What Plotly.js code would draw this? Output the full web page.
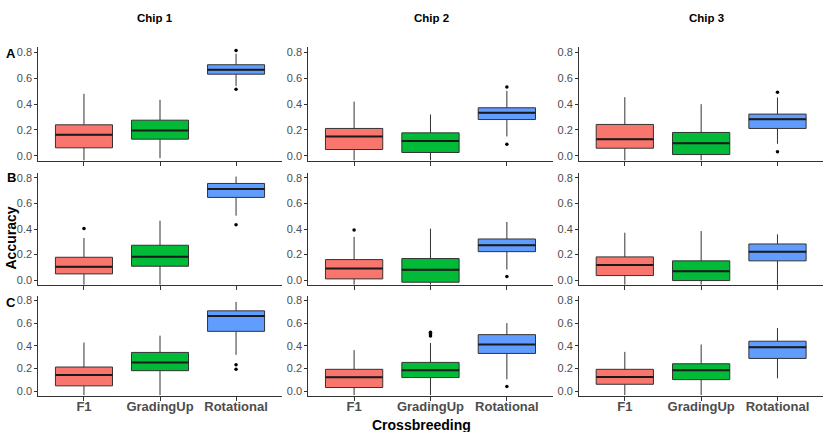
<!DOCTYPE html>
<html><head><meta charset="utf-8">
<script src="https://cdn.plot.ly/plotly-3.0.1.min.js"></script>
<style>html,body{margin:0;padding:0;background:#fff}</style>
</head><body><div id="chart" style="width:828px;height:432px"></div>
<script>
// ---- data (rows A,B,C × Chip 1..3 × categories F1, GradingUp, Rotational) ----
const categories = ['F1', 'GradingUp', 'Rotational'];
const chips = ['Chip 1', 'Chip 2', 'Chip 3'];
const rowLabels = ['A', 'B', 'C'];
const fillColors = ['#F8766D', '#00BA38', '#619CFF'];

const lowerFence = [
  [[-0.035, -0.018, 0.540], [-0.035, -0.035, 0.150], [-0.035, -0.035, 0.093]],
  [[-0.035, -0.035, 0.504], [-0.035, -0.035, 0.083], [-0.035, -0.035, -0.035]],
  [[-0.035, -0.035, 0.321], [-0.035, -0.035, 0.105], [-0.035, -0.035, 0.114]]
];
const q1 = [
  [[0.062, 0.129, 0.632], [0.049, 0.026, 0.281], [0.059, 0.010, 0.212]],
  [[0.049, 0.109, 0.647], [0.010, -0.016, 0.223], [0.036, -0.003, 0.151]],
  [[0.047, 0.181, 0.528], [0.032, 0.120, 0.333], [0.061, 0.102, 0.289]]
];
const median = [
  [[0.163, 0.196, 0.666], [0.150, 0.114, 0.333], [0.129, 0.098, 0.284]],
  [[0.104, 0.184, 0.712], [0.091, 0.081, 0.273], [0.119, 0.070, 0.223]],
  [[0.143, 0.254, 0.663], [0.123, 0.184, 0.412], [0.126, 0.184, 0.388]]
];
const q3 = [
  [[0.240, 0.276, 0.705], [0.212, 0.178, 0.372], [0.243, 0.181, 0.323]],
  [[0.179, 0.273, 0.756], [0.161, 0.169, 0.322], [0.182, 0.151, 0.283]],
  [[0.213, 0.342, 0.709], [0.193, 0.254, 0.499], [0.193, 0.242, 0.441]]
];
const upperFence = [
  [[0.480, 0.434, 0.790], [0.420, 0.320, 0.503], [0.454, 0.400, 0.452]],
  [[0.330, 0.465, 0.810], [0.338, 0.403, 0.455], [0.371, 0.384, 0.358]],
  [[0.429, 0.490, 0.788], [0.362, 0.426, 0.601], [0.347, 0.412, 0.558]]
];
// outliers: [row, chip, category, value]
const outliers = [
  [0, 0, 2, 0.815], [0, 0, 2, 0.516],
  [0, 1, 2, 0.532], [0, 1, 2, 0.090],
  [0, 2, 2, 0.493], [0, 2, 2, 0.031],
  [1, 0, 0, 0.403], [1, 0, 2, 0.434],
  [1, 1, 0, 0.392], [1, 1, 2, 0.029],
  [2, 0, 2, 0.234], [2, 0, 2, 0.193],
  [2, 1, 1, 0.520], [2, 1, 1, 0.508], [2, 1, 1, 0.497], [2, 1, 1, 0.488], [2, 1, 2, 0.041]
];
const yTicks = [0, 0.2, 0.4, 0.6, 0.8];

// ---- layout geometry ----
const xDomains = [[0.0463, 0.3402], [0.3723, 0.6675], [0.6993, 0.9943]];
const yDomains = [[0.6273, 0.8905], [0.3396, 0.6002], [0.0840, 0.3148]];
const boxWidth = 0.75;
const lineCol = '#333333';
const font = 'Liberation Sans, Arial, sans-serif';

const traces = [];
const layout = {
  width: 828, height: 432,
  margin: {l: 0, r: 0, t: 0, b: 0},
  paper_bgcolor: '#ffffff', plot_bgcolor: '#ffffff',
  showlegend: false, hovermode: false,
  boxmode: 'overlay',
  annotations: []
};

for (let r = 0; r < 3; r++) {
  for (let c = 0; c < 3; c++) {
    const n = r * 3 + c + 1;
    const xa = n === 1 ? 'x' : 'x' + n;
    const ya = n === 1 ? 'y' : 'y' + n;
    for (let k = 0; k < 3; k++) {
      traces.push({
        type: 'box', xaxis: xa, yaxis: ya,
        x: [k],
        q1: [q1[r][c][k]], median: [median[r][c][k]], q3: [q3[r][c][k]],
        lowerfence: [lowerFence[r][c][k]], upperfence: [upperFence[r][c][k]],
        width: boxWidth, whiskerwidth: 0, boxpoints: false,
        fillcolor: fillColors[k],
        line: {color: lineCol, width: 1}
      });
    }
    // thicker median lines (ggplot style)
    const mx = [], my = [];
    for (let k = 0; k < 3; k++) {
      mx.push(k - boxWidth / 2, k + boxWidth / 2, null);
      my.push(median[r][c][k], median[r][c][k], null);
    }
    traces.push({type: 'scatter', mode: 'lines', xaxis: xa, yaxis: ya,
      x: mx, y: my, line: {color: '#1a1a1a', width: 2}, hoverinfo: 'skip'});
    // outliers
    const ox = [], oy = [];
    outliers.forEach(o => { if (o[0] === r && o[1] === c) { ox.push(o[2]); oy.push(o[3]); } });
    if (ox.length) {
      traces.push({type: 'scatter', mode: 'markers', xaxis: xa, yaxis: ya,
        x: ox, y: oy, marker: {color: '#000', size: 3.5}});
    }
    layout['xaxis' + (n === 1 ? '' : n)] = {
      domain: xDomains[c], anchor: ya, range: [-0.6, 2.6],
      tickvals: [0, 1, 2], ticktext: categories,
      showticklabels: r === 2,
      ticklabelstandoff: -5,
      tickfont: {family: font, size: 13, color: '#4D4D4D', weight: 'bold'},
      showline: true, linecolor: lineCol, linewidth: 1,
      ticks: 'outside', ticklen: 4, tickcolor: lineCol, tickwidth: 1,
      showgrid: false, zeroline: false, fixedrange: true
    };
    layout['yaxis' + (n === 1 ? '' : n)] = {
      domain: yDomains[r], anchor: xa, range: [-0.04, 0.84],
      tickvals: yTicks, tickformat: '.1f',
      tickfont: {family: font, size: 11, color: '#4D4D4D'},
      showline: true, linecolor: lineCol, linewidth: 1,
      ticks: 'outside', ticklen: 3, tickcolor: lineCol, tickwidth: 1,
      showgrid: false, zeroline: false, fixedrange: true
    };
  }
}

// chip titles
const chipX = [155 / 828, 431.7 / 828, 706.7 / 828];
chips.forEach((t, i) => layout.annotations.push({
  text: t, xref: 'paper', yref: 'paper', x: chipX[i], y: 1 - 18.3 / 432,
  xanchor: 'center', yanchor: 'middle', showarrow: false,
  font: {family: font, size: 11.5, color: '#000', weight: 'bold'}
}));
// row labels
const rowY = [53, 177.3, 302.7];
rowLabels.forEach((t, i) => layout.annotations.push({
  text: t, xref: 'paper', yref: 'paper', x: 11.2 / 828, y: 1 - rowY[i] / 432,
  xanchor: 'center', yanchor: 'middle', showarrow: false,
  font: {family: font, size: 13, color: '#000', weight: 'bold'}
}));
// axis titles
layout.annotations.push({
  text: 'Accuracy', xref: 'paper', yref: 'paper', x: 10.5 / 828, y: 1 - 238 / 432,
  xanchor: 'center', yanchor: 'middle', showarrow: false, textangle: -90,
  font: {family: font, size: 14, color: '#000', weight: 'bold'}
});
layout.annotations.push({
  text: 'Crossbreeding', xref: 'paper', yref: 'paper', x: 421.7 / 828, y: 1 - 425 / 432,
  xanchor: 'center', yanchor: 'middle', showarrow: false,
  font: {family: font, size: 14, color: '#000', weight: 'bold'}
});

Plotly.newPlot('chart', traces, layout, {displayModeBar: false, staticPlot: true});
</script>
</body></html>
